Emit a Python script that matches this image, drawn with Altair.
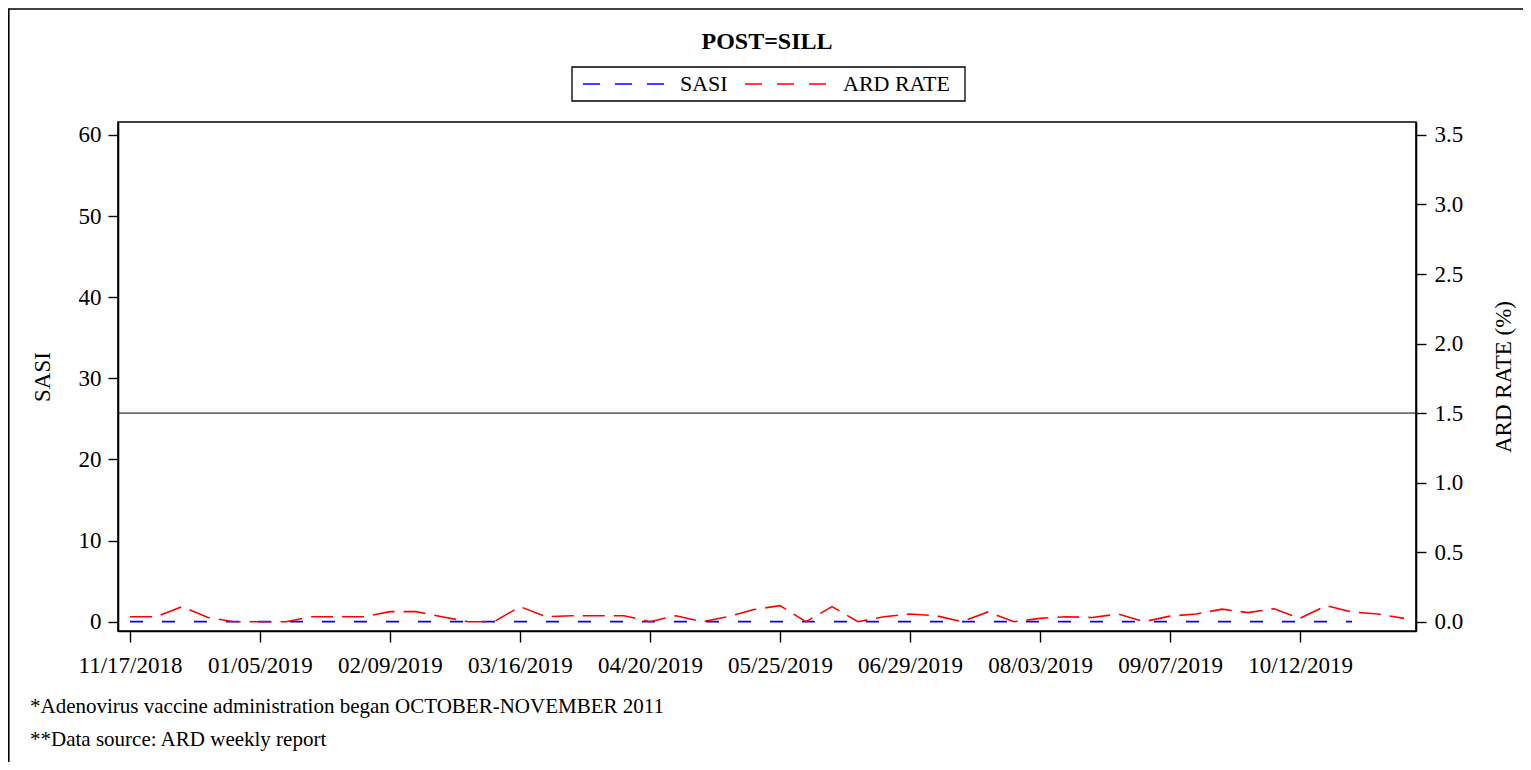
import altair as alt
import pandas as pd

# ---------------- data ----------------
tick_labels = ["11/17/2018", "01/05/2019", "02/09/2019", "03/16/2019", "04/20/2019",
               "05/25/2019", "06/29/2019", "08/03/2019", "09/07/2019", "10/12/2019"]
tick_positions = [0, 5, 10, 15, 20, 25, 30, 35, 40, 45]

ard_rate = [0.036, 0.036, 0.108, 0.030, 0.000, 0.000, 0.000, 0.036, 0.036, 0.036,
            0.072, 0.072, 0.036, 0.000, 0.000, 0.108, 0.036, 0.043, 0.043, 0.043,
            0.000, 0.043, 0.000, 0.036, 0.087, 0.115, 0.000, 0.108, 0.000, 0.036,
            0.055, 0.043, 0.000, 0.070, 0.000, 0.024, 0.036, 0.030, 0.055, 0.000,
            0.040, 0.055, 0.090, 0.065, 0.093, 0.024, 0.115, 0.070, 0.055, 0.024]

sasi = [0, 0, 0, 0, 0, 0, 0, 0, 0, 0,
        0, 0, 0, 0, 0, 0, 0, 0, 0, 0,
        0, 0, 0, 0, 0, 0, 0, 0, 0, 0,
        0, 0, 0, 0, 0, 0, 0, 0, 0, 0,
        0, 0, 0, 0, 0, 0, 0, 0]

ard_threshold = [1.5]

title_text = "POST=SILL"
footnotes = ["*Adenovirus vaccine administration began OCTOBER-NOVEMBER 2011",
             "**Data source: ARD weekly report"]
series_names = ["SASI", "ARD RATE"]
series_colors = ["#0000ff", "#ff0000"]

ard_df = pd.DataFrame({"week": list(range(len(ard_rate))), "ard": ard_rate})
sasi_df = pd.DataFrame({"week": list(range(len(sasi))), "sasi": sasi})
ref_df = pd.DataFrame({"ref": ard_threshold})

W, H = 1298, 509
FONT = "Liberation Serif"
LABEL_SIZE = 23

label_array = "[" + ",".join("'%s'" % s for s in tick_labels) + "]"

x_enc = alt.X(
    "week:Q",
    scale=alt.Scale(domain=[-0.46, 49.46], nice=False, zero=False),
    axis=alt.Axis(values=tick_positions,
                  labelExpr=label_array + "[round(datum.value/5)]",
                  title=None, labelPadding=12, labelFlush=False, tickSize=11),
)

sasi_line = alt.Chart(sasi_df).mark_line(
    strokeWidth=1.6, strokeDash=[13, 19], color=series_colors[0]
).encode(
    x=x_enc,
    y=alt.Y("sasi:Q",
            scale=alt.Scale(domain=[-1.15, 61.6], nice=False, zero=False),
            axis=alt.Axis(orient="left", values=[0, 10, 20, 30, 40, 50, 60],
                          title="SASI", titleX=-76, titleY=H / 2, titleAngle=-90,
                          titleAlign="center", titleBaseline="middle",
                          labelPadding=7, tickSize=10)),
)

ard_line = alt.Chart(ard_df).mark_line(
    strokeWidth=1.6, strokeDash=[22, 9], color=series_colors[1]
).encode(
    x=x_enc,
    y=alt.Y("ard:Q",
            scale=alt.Scale(domain=[-0.067, 3.593], nice=False, zero=False),
            axis=alt.Axis(orient="right", values=[0, 0.5, 1, 1.5, 2, 2.5, 3, 3.5],
                          format=".1f", title="ARD RATE (%)", titleX=87, titleY=H / 2,
                          titleAngle=-90, titleAlign="center", titleBaseline="middle",
                          labelPadding=8, tickSize=10)),
)

ref_rule = alt.Chart(ref_df).mark_rule(color="black", strokeWidth=1).encode(
    y=alt.Y("ref:Q")
)

ard_layer = alt.layer(ard_line, ref_rule)

# ---------------- text / decoration layers ----------------
one = pd.DataFrame({"k": [0]})
title_mark = alt.Chart(one).mark_text(font=FONT, fontSize=24, fontWeight="bold",
                                      align="center", baseline="middle",
                                      color="black").encode(
    x=alt.value(W / 2), y=alt.value(-80), text=alt.value(title_text))

foot_layers = []
for i, (txt, ypix) in enumerate(zip(footnotes, [707, 740])):
    foot_layers.append(
        alt.Chart(one).mark_text(font=FONT, fontSize=21, align="left",
                                 baseline="middle", color="black").encode(
            x=alt.value(30 - 118), y=alt.value(ypix - 122), text=alt.value(txt)))

# manual legend
LEG_Y = -38
legend_box = alt.Chart(one).mark_rect(fill="white", stroke="black",
                                      strokeWidth=1.3).encode(
    x=alt.value(454), x2=alt.value(847), y=alt.value(-55), y2=alt.value(-21))
legend_layers = [legend_box]
for name, col, x0, xt in zip(series_names, series_colors, [465, 627], [562, 725]):
    legend_layers.append(
        alt.Chart(one).mark_rule(color=col, strokeWidth=1.6,
                                 strokeDash=[17, 15]).encode(
            x=alt.value(x0), x2=alt.value(x0 + 82), y=alt.value(LEG_Y)))
    legend_layers.append(
        alt.Chart(one).mark_text(font=FONT, fontSize=22, align="left",
                                 baseline="middle", color="black").encode(
            x=alt.value(xt), y=alt.value(LEG_Y), text=alt.value(name)))

frame_top = alt.Chart(one).mark_rule(color="black", strokeWidth=1.6).encode(
    x=alt.value(-112), x2=alt.value(W + 112), y=alt.value(9 - 122))
frame_left = alt.Chart(one).mark_rule(color="black", strokeWidth=1.6).encode(
    x=alt.value(-109.2), y=alt.value(9 - 122), y2=alt.value(H + 140))

chart = alt.layer(
    sasi_line, ard_layer, title_mark, *foot_layers, *legend_layers,
    frame_top, frame_left
).resolve_scale(y="independent").properties(
    width=W, height=H,
    autosize=alt.AutoSizeParams(type="none"),
    padding={"left": 110, "top": 114, "right": 107, "bottom": 131},
).configure_view(
    stroke="black", strokeWidth=1.6
).configure_axis(
    domainColor="black", domainWidth=1.6, tickColor="black", tickWidth=1.4,
    labelFont=FONT, labelFontSize=LABEL_SIZE, labelColor="black",
    titleFont=FONT, titleFontSize=23, titleFontWeight="normal", titleColor="black",
    grid=False
)

chart.save("out.html", embed_options={"renderer": "svg", "actions": False})
